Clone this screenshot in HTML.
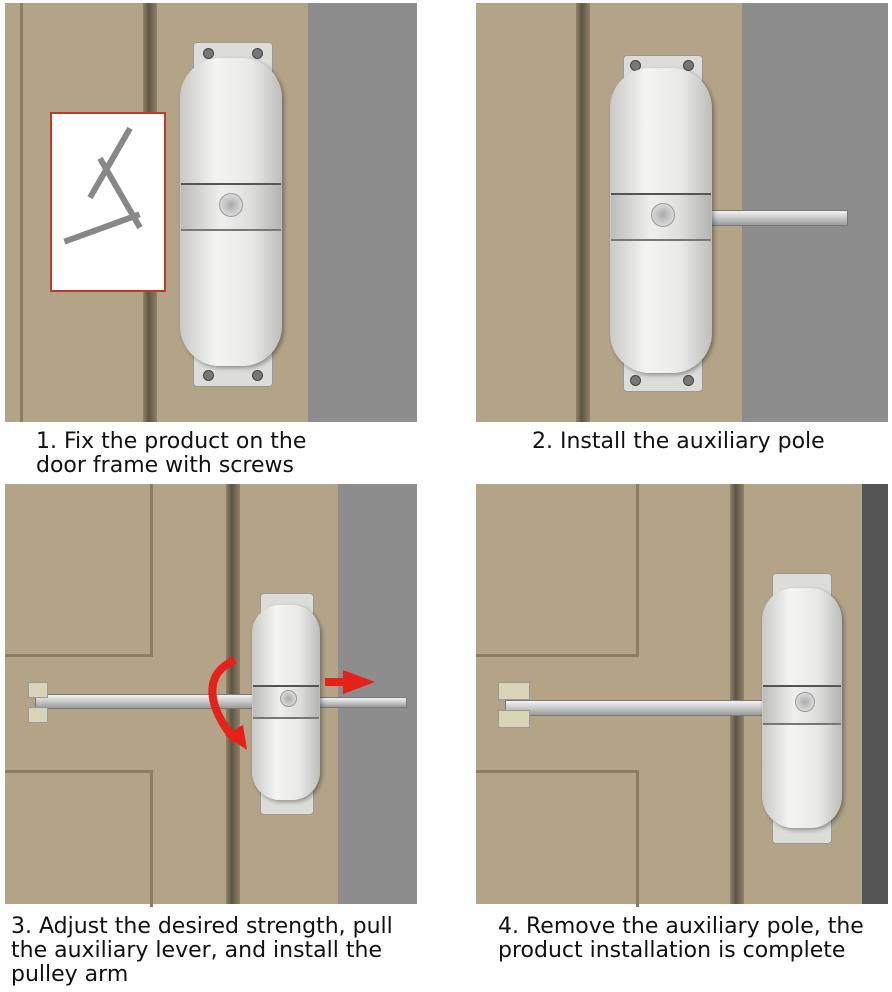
<!DOCTYPE html>
<html><head><meta charset="utf-8">
<style>
body{margin:0;width:892px;height:992px;background:#fff;position:relative;overflow:hidden;font-family:"Liberation Sans",sans-serif}
.a{position:absolute}
.door{background:#b3a488}
.wall{background:#8d8d8e}
.groove{background:linear-gradient(90deg,#8f8268,#5e5545 40%,#8f8268)}
.line{background:#8a7d64}
.closer{background:linear-gradient(90deg,#c9c9c7,#f4f4f2 35%,#e9e9e7 70%,#bdbdbb);border-radius:40px;box-shadow:2px 2px 4px rgba(0,0,0,.35)}
.plate{background:#dcdcd8;border:1px solid #999;border-radius:4px}
.band{background:linear-gradient(90deg,#bcbcba,#efefed 40%,#dededc 70%,#b3b3b1);border-top:2px solid #555;border-bottom:2px solid #777}
.hole{background:radial-gradient(#aaa,#eee);border-radius:50%;border:1px solid #999}
.pole{background:linear-gradient(#f3f3f3,#c8c8c8 50%,#9a9a9a);border:1px solid #777}
.t{position:absolute;font-family:"DejaVu Sans",sans-serif;font-size:22px;color:#111;line-height:24px;white-space:nowrap}
.scr{position:absolute;width:9px;height:9px;border-radius:50%;background:#777;border:1px solid #444}
</style></head><body>
<!-- Panel 1 -->
<div class="a door" style="left:5px;top:3px;width:412px;height:419px"></div>
<div class="a line" style="left:20px;top:3px;width:3px;height:419px"></div>
<div class="a groove" style="left:143px;top:3px;width:14px;height:419px"></div>
<div class="a wall" style="left:308px;top:3px;width:109px;height:419px"></div>
<div class="a" style="left:50px;top:112px;width:112px;height:176px;background:#fff;border:2px solid #c0392b"></div>
<div class="a" style="left:70px;top:160px;width:80px;height:6px;background:#888;transform:rotate(-60deg)"></div>
<div class="a" style="left:80px;top:190px;width:80px;height:6px;background:#888;transform:rotate(60deg)"></div>
<div class="a" style="left:62px;top:225px;width:80px;height:6px;background:#888;transform:rotate(-20deg)"></div>
<div class="a plate" style="left:193px;top:42px;width:78px;height:40px"></div>
<div class="a plate" style="left:193px;top:345px;width:78px;height:40px"></div>
<div class="scr" style="left:203px;top:48px"></div><div class="scr" style="left:252px;top:48px"></div>
<div class="scr" style="left:203px;top:370px"></div><div class="scr" style="left:252px;top:370px"></div>
<div class="a closer" style="left:180px;top:58px;width:102px;height:308px"></div>
<div class="a band" style="left:181px;top:183px;width:100px;height:44px"></div>
<div class="a hole" style="left:219px;top:193px;width:22px;height:22px"></div>
<div class="t" style="left:36px;top:430px">1. Fix the product on the<br>door frame with screws</div>
<!-- Panel 2 -->
<div class="a door" style="left:476px;top:3px;width:412px;height:419px"></div>
<div class="a groove" style="left:576px;top:3px;width:14px;height:419px"></div>
<div class="a wall" style="left:742px;top:3px;width:146px;height:419px"></div>
<div class="a pole" style="left:705px;top:210px;width:141px;height:14px"></div>
<div class="a plate" style="left:623px;top:55px;width:78px;height:35px"></div>
<div class="a plate" style="left:623px;top:355px;width:78px;height:35px"></div>
<div class="scr" style="left:630px;top:60px"></div><div class="scr" style="left:683px;top:60px"></div>
<div class="scr" style="left:630px;top:375px"></div><div class="scr" style="left:683px;top:375px"></div>
<div class="a closer" style="left:610px;top:68px;width:102px;height:305px"></div>
<div class="a band" style="left:611px;top:193px;width:100px;height:44px"></div>
<div class="a hole" style="left:651px;top:203px;width:22px;height:22px"></div>
<div class="t" style="left:532px;top:430px">2. Install the auxiliary pole</div>
<!-- Panel 3 -->
<div class="a door" style="left:5px;top:484px;width:412px;height:420px"></div>
<div class="a" style="left:5px;top:484px;width:145px;height:170px;border-right:3px solid #8a7d64;border-bottom:3px solid #8a7d64"></div>
<div class="a" style="left:5px;top:770px;width:145px;height:134px;border-right:3px solid #8a7d64;border-top:3px solid #8a7d64"></div>
<div class="a groove" style="left:226px;top:484px;width:14px;height:420px"></div>
<div class="a wall" style="left:338px;top:484px;width:79px;height:420px"></div>
<div class="a pole" style="left:35px;top:694px;width:220px;height:13px"></div>
<div class="a pole" style="left:315px;top:697px;width:90px;height:9px"></div>
<div class="a" style="left:28px;top:682px;width:18px;height:14px;background:#d9d3b8;border:1px solid #999"></div>
<div class="a" style="left:28px;top:707px;width:18px;height:14px;background:#d9d3b8;border:1px solid #999"></div>
<div class="a plate" style="left:260px;top:593px;width:52px;height:28px"></div>
<div class="a plate" style="left:260px;top:785px;width:52px;height:28px"></div>
<div class="a closer" style="left:252px;top:605px;width:68px;height:195px;border-radius:28px"></div>
<div class="a band" style="left:253px;top:685px;width:66px;height:30px"></div>
<div class="a hole" style="left:280px;top:690px;width:15px;height:15px"></div>
<svg class="a" style="left:195px;top:655px" width="200" height="100"><path d="M40 5 C5 20 15 55 40 85" stroke="#e8201a" stroke-width="8" fill="none"/><polygon points="30,80 52,95 48,70" fill="#e8201a"/><rect x="130" y="23" width="20" height="8" fill="#e8201a"/><polygon points="148,15 180,27 148,39" fill="#e8201a"/></svg>
<div class="t" style="left:11px;top:915px">3. Adjust the desired strength, pull<br>the auxiliary lever, and install the<br>pulley arm</div>
<!-- Panel 4 -->
<div class="a door" style="left:476px;top:484px;width:412px;height:420px"></div>
<div class="a" style="left:476px;top:484px;width:160px;height:170px;border-right:3px solid #8a7d64;border-bottom:3px solid #8a7d64"></div>
<div class="a" style="left:476px;top:770px;width:160px;height:134px;border-right:3px solid #8a7d64;border-top:3px solid #8a7d64"></div>
<div class="a groove" style="left:730px;top:484px;width:14px;height:420px"></div>
<div class="a" style="left:862px;top:484px;width:26px;height:420px;background:#555"></div>
<div class="a pole" style="left:505px;top:700px;width:260px;height:14px"></div>
<div class="a" style="left:498px;top:682px;width:30px;height:16px;background:#d9d3b8;border:1px solid #999"></div>
<div class="a" style="left:498px;top:710px;width:30px;height:16px;background:#d9d3b8;border:1px solid #999"></div>
<div class="a plate" style="left:772px;top:573px;width:58px;height:30px"></div>
<div class="a plate" style="left:772px;top:812px;width:58px;height:30px"></div>
<div class="a closer" style="left:762px;top:588px;width:80px;height:240px;border-radius:32px"></div>
<div class="a band" style="left:763px;top:685px;width:78px;height:36px"></div>
<div class="a hole" style="left:795px;top:692px;width:18px;height:18px"></div>
<div class="t" style="left:498px;top:915px">4. Remove the auxiliary pole, the<br>product installation is complete</div>
</body></html>
